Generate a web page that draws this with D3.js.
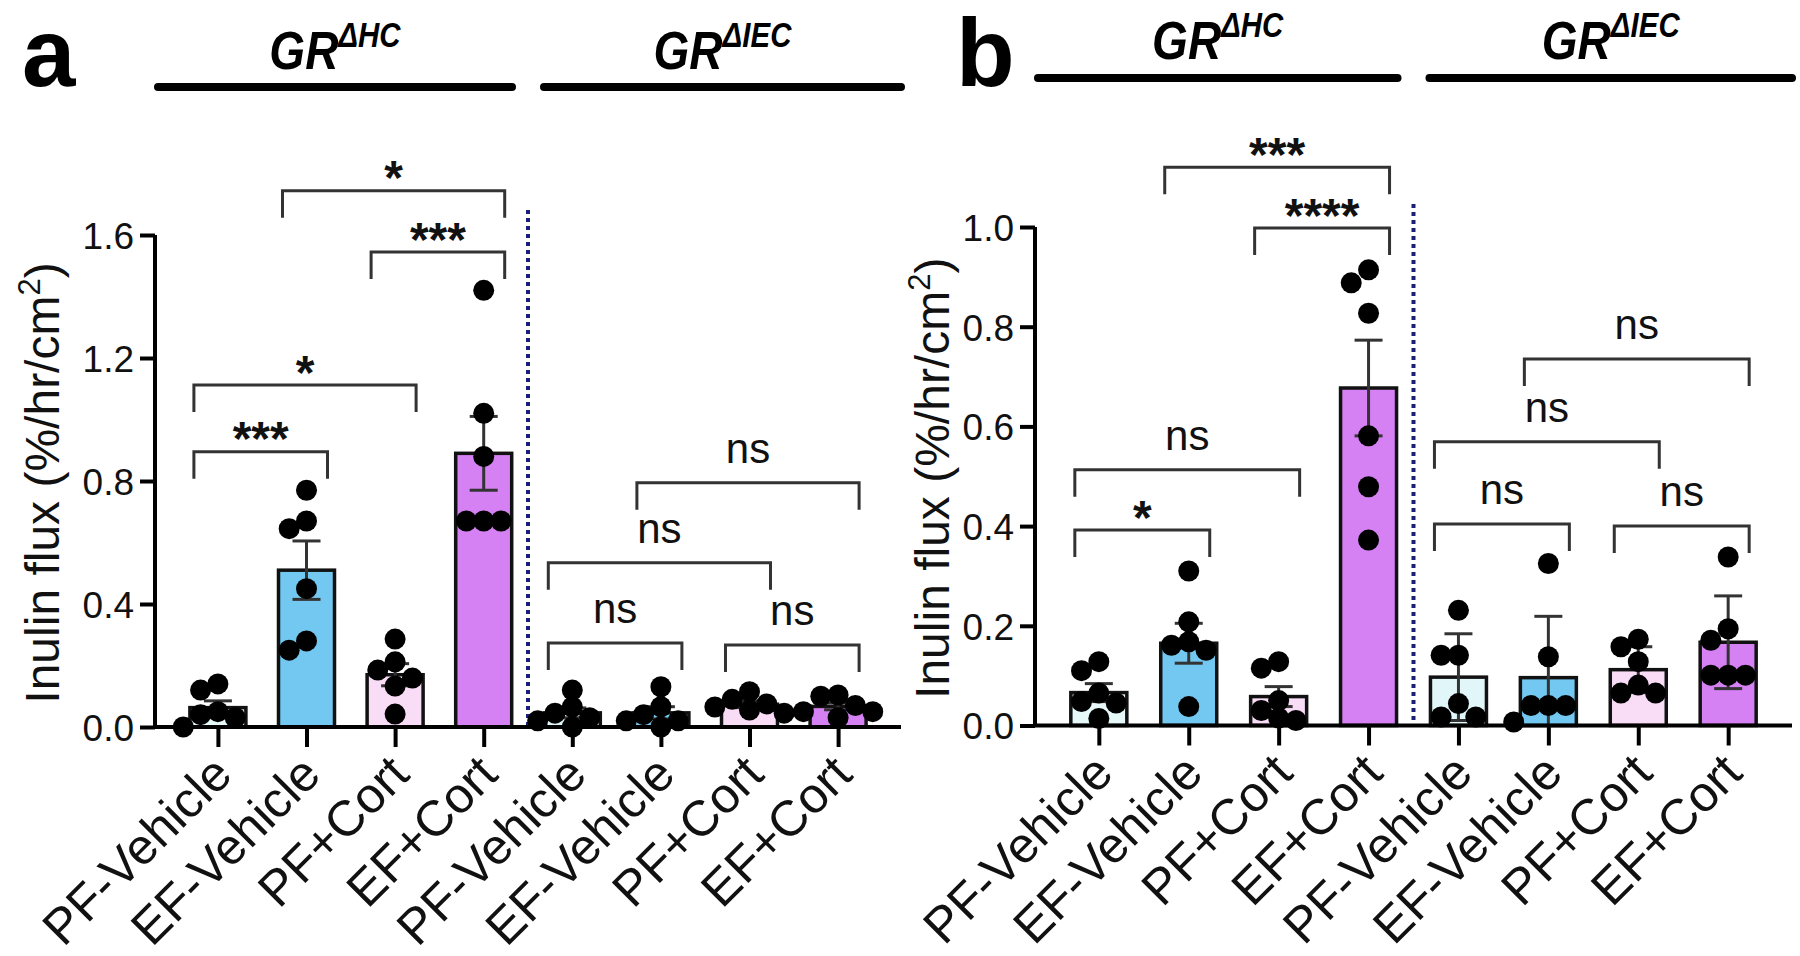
<!DOCTYPE html>
<html><head><meta charset="utf-8">
<script src="https://cdn.jsdelivr.net/npm/d3@7"></script>
<style>html,body{margin:0;padding:0;background:#fff;} svg{display:block;}</style>
</head><body>
<svg id="chart" width="1800" height="956"></svg>
<script>
// ---------- DATA ----------
const categories = ["PF-Vehicle","EF-Vehicle","PF+Cort","EF+Cort","PF-Vehicle","EF-Vehicle","PF+Cort","EF+Cort"];
const groupNames = ["GR","GR"];
const groupSups = ["\u0394HC","\u0394IEC"];
const barColors = ["#e6f8f8","#72c8f0","#f9dcf6","#d580f3","#e0f6f8","#72c8f0","#f9dcf6","#d580f3"];

// Panel a
const aMeans = [0.063, 0.51, 0.17, 0.89, 0.046, 0.046, 0.074, 0.067];
const aSEM   = [0.022, 0.095, 0.036, 0.12, 0.016, 0.02, 0.011, 0.011];
const aPoints = [
  [0.14, 0.12, 0.05, 0.04, 0.03, 0.0],
  [0.77, 0.67, 0.645, 0.45, 0.25, 0.28],
  [0.286, 0.212, 0.185, 0.159, 0.133, 0.042],
  [1.42, 1.02, 0.88, 0.67, 0.67, 0.67],
  [0.12, 0.065, 0.045, 0.03, 0.02, 0.0],
  [0.131, 0.066, 0.04, 0.02, 0.02, 0.0],
  [0.115, 0.09, 0.075, 0.065, 0.055, 0.045],
  [0.104, 0.10, 0.07, 0.05, 0.05, 0.03]
];
const aTicks = [0, 0.4, 0.8, 1.2, 1.6];
const aComparisons = [
  [1, 3, 1.744, "*"], [2, 3, 1.545, "***"], [0, 2, 1.112, "*"], [0, 1, 0.895, "***"],
  [5, 7, 0.794, "ns"], [4, 6, 0.534, "ns"], [4, 5, 0.273, "ns"], [6, 7, 0.267, "ns"]
];

// Panel b
const bMeans = [0.066, 0.165, 0.058, 0.677, 0.097, 0.096, 0.112, 0.167];
const bSEM   = [0.018, 0.04, 0.02, 0.096, 0.087, 0.123, 0.046, 0.093];
const bPoints = [
  [0.128, 0.11, 0.065, 0.048, 0.045, 0.014],
  [0.31, 0.208, 0.168, 0.161, 0.151, 0.038],
  [0.128, 0.115, 0.05, 0.03, 0.015, 0.01],
  [0.914, 0.888, 0.827, 0.581, 0.479, 0.372],
  [0.231, 0.141, 0.141, 0.044, 0.017, 0.017],
  [0.325, 0.138, 0.04, 0.04, 0.04, 0.007],
  [0.173, 0.158, 0.128, 0.081, 0.065, 0.065],
  [0.338, 0.194, 0.171, 0.101, 0.101, 0.101]
];
const bTicks = [0, 0.2, 0.4, 0.6, 0.8, 1.0];
const bComparisons = [
  [1, 3, 1.12, "***"], [2, 3, 0.998, "****"], [0, 2, 0.513, "ns"], [0, 1, 0.392, "*"],
  [5, 7, 0.735, "ns"], [4, 6, 0.569, "ns"], [4, 5, 0.404, "ns"], [6, 7, 0.40, "ns"]
];

const yTitle = "Inulin flux (%/hr/cm";
const yTitleSup = "2";
const yTitleEnd = ")";

// ---------- LAYOUT ----------
const panels = [
  {letter:"a", means:aMeans, sem:aSEM, points:aPoints, ticks:aTicks, comps:aComparisons,
   left:155, right:901, y0:727, yTop:235, yMax:1.6, letterX:22, headerLineY:87, headerBase:69,
   titleX:59, sepTop:210},
  {letter:"b", means:bMeans, sem:bSEM, points:bPoints, ticks:bTicks, comps:bComparisons,
   left:1035, right:1792, y0:725.5, yTop:227, yMax:1.0, letterX:956, headerLineY:78, headerBase:59,
   titleX:949, sepTop:204}
];

const svg = d3.select("#chart");
svg.append("rect").attr("width",1800).attr("height",956).attr("fill","#fff");
const FONT = "'Liberation Sans', Arial, Helvetica, sans-serif";
const idx = d3.range(categories.length);

panels.forEach(p => {
  const g = svg.append("g");
  const x = d3.scalePoint().domain(idx).range([p.left, p.right]).padding(0.71);
  const y = d3.scaleLinear().domain([0, p.yMax]).range([p.y0, p.yTop]);
  const bw = 56;
  const r = 10.5;

  // panel letter
  g.append("text").attr("x", p.letterX).attr("y", 86)
    .attr("font-family", FONT).attr("font-weight", "bold").attr("font-size", 96)
    .text(p.letter);

  // header lines and genotype labels
  const mid = (x(3) + x(4)) / 2;
  const segs = [[p.left + 3, mid - 16], [mid + 16, p.right]];
  segs.forEach((s, i) => {
    g.append("line").attr("x1", s[0]).attr("x2", s[1])
      .attr("y1", p.headerLineY).attr("y2", p.headerLineY)
      .attr("stroke", "#000").attr("stroke-width", 8).attr("stroke-linecap", "round");
    const t = g.append("text")
      .attr("transform", `translate(${(s[0] + s[1]) / 2},${p.headerBase})scale(0.92,1.08)`)
      .attr("text-anchor", "middle").attr("font-family", FONT)
      .attr("font-weight", "bold").attr("font-style", "italic");
    t.append("tspan").attr("font-size", 50).text(groupNames[i]);
    t.append("tspan").attr("font-size", 32).attr("dy", -20).text(groupSups[i]);
  });

  // y axis
  const yAxis = d3.axisLeft(y).tickValues(p.ticks).tickFormat(d3.format(".1f"))
    .tickSize(15).tickPadding(6);
  const ya = g.append("g").attr("transform", `translate(${p.left},0)`).call(yAxis);
  ya.select(".domain").attr("stroke", "#000").attr("stroke-width", 4)
    .attr("d", `M0,${p.y0}V${p.yTop}`);
  ya.selectAll(".tick line").attr("stroke", "#000").attr("stroke-width", 4);
  ya.selectAll(".tick text").attr("font-family", FONT).attr("font-size", 37)
    .attr("fill", "#111").attr("dy", "0.36em");

  // y title
  const tt = g.append("text")
    .attr("transform", `translate(${p.titleX},${(p.y0 + p.yTop) / 2 + 2})rotate(-90)`)
    .attr("text-anchor", "middle").attr("font-family", FONT).attr("font-size", 48).attr("fill", "#111");
  tt.append("tspan").text(yTitle);
  tt.append("tspan").attr("font-size", 31).attr("dy", -19).text(yTitleSup);
  tt.append("tspan").attr("dy", 19).text(yTitleEnd);

  // separator
  g.append("line").attr("x1", mid).attr("x2", mid).attr("y1", p.sepTop).attr("y2", p.y0)
    .attr("stroke", "#1c1f7a").attr("stroke-width", 4).attr("stroke-dasharray", "4,4");

  // bars
  g.selectAll("rect.bar").data(idx).join("rect").attr("class", "bar")
    .attr("x", i => x(i) - bw / 2).attr("width", bw)
    .attr("y", i => y(p.means[i])).attr("height", i => p.y0 - y(p.means[i]))
    .attr("fill", i => barColors[i]).attr("stroke", "#111").attr("stroke-width", 3.5);

  // error bars
  idx.forEach(i => {
    const hi = y(p.means[i] + p.sem[i]), lo = y(Math.max(0, p.means[i] - p.sem[i]));
    g.append("line").attr("x1", x(i)).attr("x2", x(i)).attr("y1", hi).attr("y2", lo)
      .attr("stroke", "#333").attr("stroke-width", 3);
    [hi, lo].forEach(v => g.append("line").attr("x1", x(i) - 14).attr("x2", x(i) + 14)
      .attr("y1", v).attr("y2", v).attr("stroke", "#333").attr("stroke-width", 3));
  });

  // dots (beeswarm placement)
  idx.forEach(i => {
    const placed = [];
    const vals = p.points[i].slice().sort((a, b) => b - a);
    vals.forEach(v => {
      const cy = y(v);
      const cands = [0, -1, 1, -2, 2, -3, 3];
      let off = x(i);
      for (const c of cands) {
        const cx = x(i) + c * r * 1.65;
        if (placed.every(q => Math.hypot(q[0] - cx, q[1] - cy) >= r * 1.6)) { off = cx; break; }
      }
      placed.push([off, cy]);
    });
    g.selectAll(null).data(placed).join("circle")
      .attr("cx", d => d[0]).attr("cy", d => d[1]).attr("r", r).attr("fill", "#000");
  });

  // x axis
  const xAxis = d3.axisBottom(x).tickSize(20).tickFormat(i => categories[i]);
  const xa = g.append("g").attr("transform", `translate(0,${p.y0})`).call(xAxis);
  xa.select(".domain").attr("stroke", "#000").attr("stroke-width", 4)
    .attr("d", `M${p.left},0H${p.right}`);
  xa.selectAll(".tick line").attr("stroke", "#000").attr("stroke-width", 4);
  xa.selectAll(".tick text").attr("font-family", FONT).attr("font-size", 50).attr("fill", "#111")
    .attr("text-anchor", "end").attr("dy", 0).attr("y", 0)
    .attr("transform", "translate(16,50)rotate(-45)");

  // comparison brackets
  p.comps.forEach(c => {
    const x1 = x(c[0]) - 24, x2 = x(c[1]) + 21, yy = y(c[2]), leg = 27;
    g.append("path").attr("d", `M${x1},${yy + leg}V${yy}H${x2}V${yy + leg}`)
      .attr("fill", "none").attr("stroke", "#333").attr("stroke-width", 3);
    const cx = (x1 + x2) / 2;
    if (c[3] === "ns") {
      g.append("text").attr("x", cx).attr("y", yy - 20).attr("text-anchor", "middle")
        .attr("font-family", FONT).attr("font-size", 42).attr("fill", "#111").text("ns");
    } else {
      g.append("text").attr("x", cx).attr("y", yy - 24 + 0.575 * 48).attr("text-anchor", "middle")
        .attr("font-family", FONT).attr("font-weight", "bold").attr("font-size", 48)
        .attr("fill", "#111").text(c[3]);
    }
  });
});
</script>
</body></html>
